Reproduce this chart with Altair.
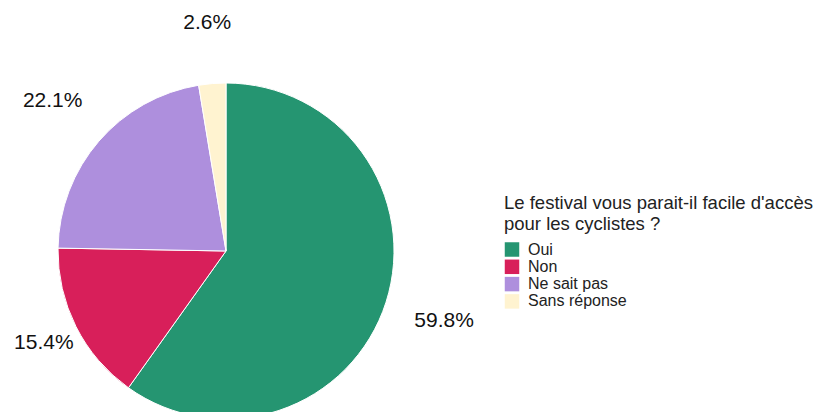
import altair as alt
import pandas as pd

categories = ["Oui", "Non", "Ne sait pas", "Sans réponse"]
values = [59.8, 15.4, 22.1, 2.6]
colors = ["#259571", "#D81F5A", "#AE8FDD", "#FFF3D0"]
legend_title = ["Le festival vous parait-il facile d'accès", "pour les cyclistes ?"]

df = pd.DataFrame({"cat": categories, "value": values, "idx": list(range(len(categories)))})

FONT = "Liberation Sans"
CX, CY, R = 218, 243, 168

base = alt.Chart(df).encode(
    theta=alt.Theta("value:Q", stack=True),
    order=alt.Order("idx:Q", sort="ascending"),
)

pie = base.mark_arc(radius=R, stroke="white", strokeWidth=1).encode(
    x=alt.value(CX),
    y=alt.value(CY),
    color=alt.Color(
        "cat:N",
        scale=alt.Scale(domain=categories, range=colors),
        sort=categories,
        legend=alt.Legend(
            title=legend_title,
            orient="none",
            legendX=496,
            legendY=186,
            titleFont=FONT,
            titleFontSize=18.5,
            titleFontWeight="normal",
            titleColor="#222222",
            titleLineHeight=21,
            titlePadding=8,
            titleLimit=420,
            labelFont=FONT,
            labelFontSize=16,
            labelColor="#222222",
            labelLimit=300,
            symbolType="square",
            symbolSize=210,
            symbolStrokeWidth=0,
            rowPadding=1.3,
            labelOffset=8,
        ),
    ),
)

text_base = base.transform_calculate(
    label="format(datum.value, '.1f') + '%'"
).encode(x=alt.value(CX), y=alt.value(CY))

# outer labels
labels_outer = text_base.mark_text(
    radius=229, font=FONT, fontSize=21, color="#111111", align="center", baseline="middle"
).encode(
    text=alt.condition("datum.cat != 'Non'", "label:N", alt.value("")),
)
# label pulled inward so it stays on the canvas (as in the original)
labels_inner = text_base.mark_text(
    radius=204, font=FONT, fontSize=21, color="#111111", align="center", baseline="middle"
).encode(
    text=alt.condition("datum.cat == 'Non'", "label:N", alt.value("")),
)

chart = (
    alt.layer(pie, labels_outer, labels_inner)
    .properties(width=811, height=404, padding=0, autosize=alt.AutoSizeParams(type="none"))
    .configure_view(stroke=None)
)

chart.save("out.html", embed_options={"renderer": "svg", "actions": False})
